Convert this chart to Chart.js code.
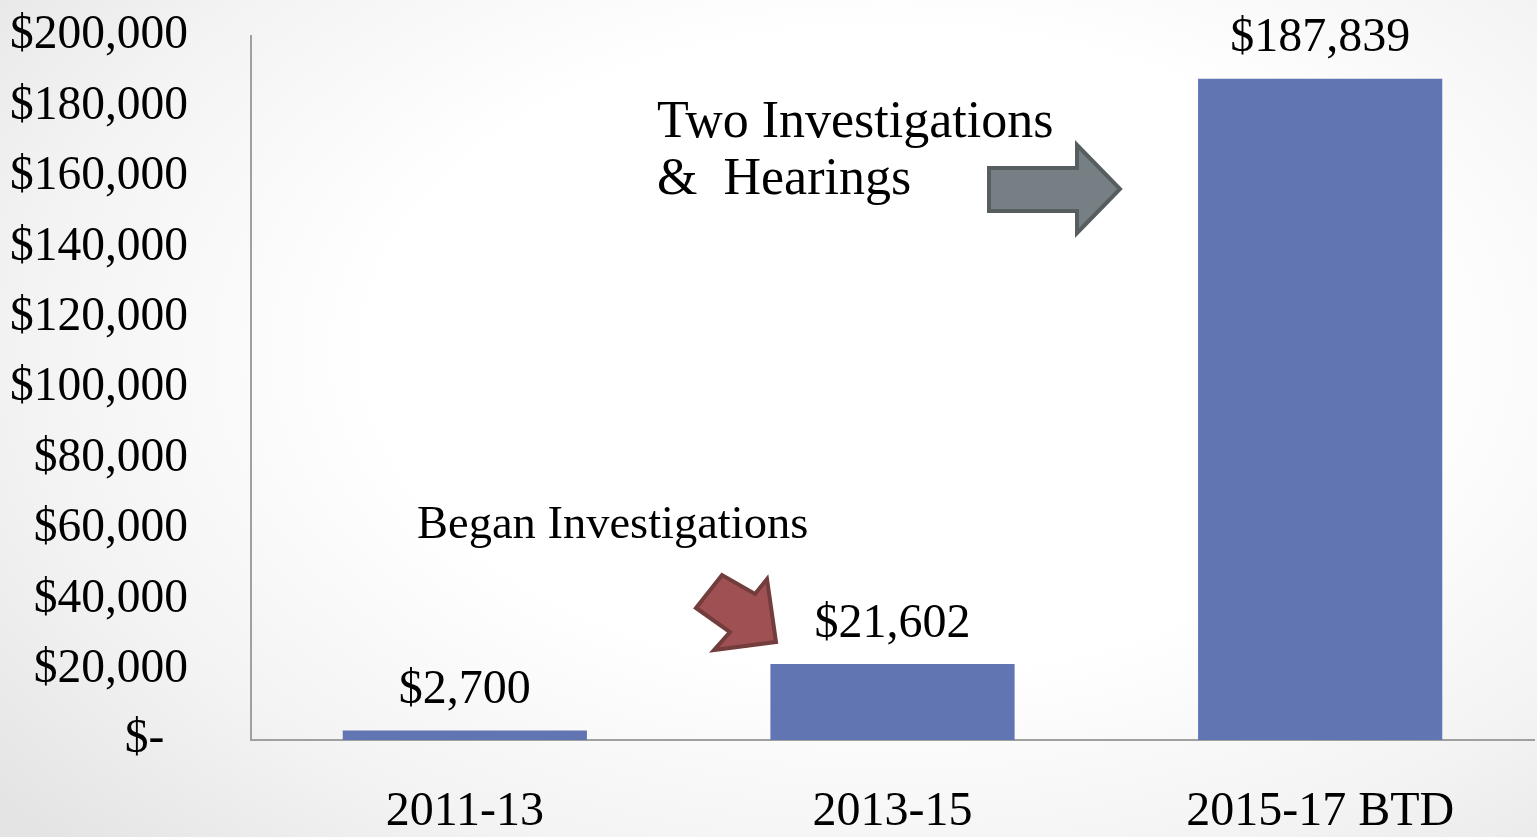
<!DOCTYPE html>
<html>
<head>
<meta charset="utf-8">
<script src="https://cdn.jsdelivr.net/npm/chart.js@4"></script>
<style>
  html, body { margin: 0; padding: 0; }
  body {
    width: 1537px; height: 837px; overflow: hidden;
    background: radial-gradient(ellipse 75% 85% at 58% 42%, #ffffff 45%, #f3f3f3 75%, #e4e4e4 100%);
  }
  #wrap { width: 1537px; height: 837px; }
</style>
</head>
<body>
<div id="wrap"><canvas id="bar-chart"></canvas></div>
<script>
const bienios = ['2011-13', '2013-15', '2015-17 BTD']
const gastos = [2700, 21602, 187839]
const yMax = 200000
const yStep = 20000

const serif = '"Liberation Serif", "Times New Roman", serif'

const dinheiro = v => v === 0 ? '$-  ' : '$' + v.toLocaleString('en-US')

// value labels above each bar
const rotulos = {
    id: 'rotulos',
    afterDatasetsDraw(chart) {
        const ctx = chart.ctx
        const meta = chart.getDatasetMeta(0)
        ctx.save()
        ctx.font = '48px ' + serif
        ctx.fillStyle = '#000'
        ctx.textAlign = 'center'
        ctx.textBaseline = 'middle'
        meta.data.forEach((bar, i) => {
            ctx.fillText(dinheiro(gastos[i]), bar.x, bar.y - 40)
        })
        ctx.restore()
    }
}

// arrows and notes
const notas = {
    id: 'notas',
    afterDraw(chart) {
        const ctx = chart.ctx
        ctx.save()
        ctx.fillStyle = '#000'
        ctx.textAlign = 'left'
        ctx.textBaseline = 'middle'
        ctx.font = '52px ' + serif
        ctx.fillText('Two Investigations', 657, 123)
        ctx.fillText('&  Hearings', 657, 180)
        ctx.font = '46.5px ' + serif
        ctx.fillText('Began Investigations', 417, 526)

        const poligono = (pts, fill, stroke) => {
            ctx.beginPath()
            pts.forEach((p, i) => i ? ctx.lineTo(p[0], p[1]) : ctx.moveTo(p[0], p[1]))
            ctx.closePath()
            ctx.fillStyle = fill
            ctx.fill()
            ctx.lineWidth = 4
            ctx.lineJoin = 'miter'
            ctx.strokeStyle = stroke
            ctx.stroke()
        }
        // gray arrow
        poligono([[989, 168], [1077, 168], [1077, 145], [1120, 189], [1077, 233], [1077, 211], [989, 211]],
            '#768084', '#565e60')
        // red arrow
        poligono([[696, 608], [722, 575], [755, 594], [767, 579], [776, 642], [714, 650], [730, 632]],
            '#9e5052', '#733c3d')
        ctx.restore()
    }
}

new Chart(document.getElementById('bar-chart'), {
    type: 'bar',
    data: {
        labels: bienios,
        datasets: [
            {
                data: gastos,
                backgroundColor: '#6175b2',
                barPercentage: 0.571,
                categoryPercentage: 1
            }
        ]
    },
    options: {
        responsive: true,
        maintainAspectRatio: false,
        animation: false,
        layout: { padding: { top: 36, right: 3, left: 0, bottom: 0 } },
        plugins: {
            legend: { display: false },
            tooltip: { enabled: false }
        },
        scales: {
            x: {
                grid: { display: false, drawTicks: true, tickLength: 42 },
                border: { display: true, color: '#a0a0a0', width: 2 },
                ticks: {
                    color: '#000',
                    font: { family: serif, size: 48 },
                    padding: 2
                },
                afterFit: s => { s.height = 97 }
            },
            y: {
                min: 0,
                max: yMax,
                grid: { display: false, drawTicks: true, tickLength: 57 },
                border: { display: true, color: '#a0a0a0', width: 2 },
                ticks: {
                    stepSize: yStep,
                    color: '#000',
                    font: { family: serif, size: 47.5 },
                    padding: 6,
                    callback: v => dinheiro(v)
                },
                afterFit: s => { s.width = 251 }
            }
        }
    },
    plugins: [rotulos, notas]
})
</script>
</body>
</html>
